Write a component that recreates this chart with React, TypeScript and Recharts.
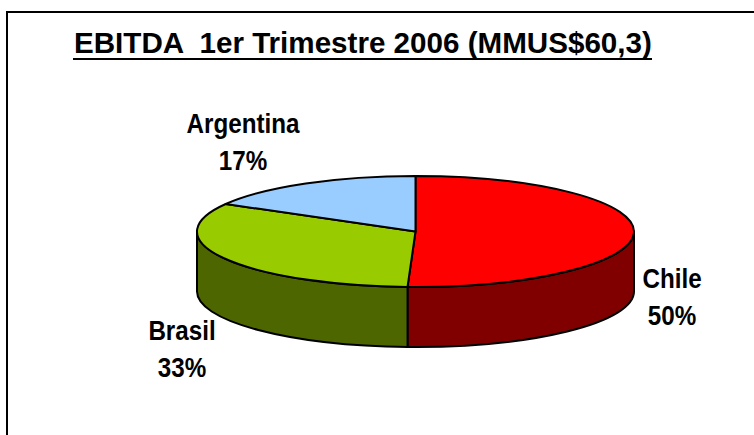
import { PieChart, Pie, Cell } from "recharts";

// values in MMUS$
const categories = ["Chile", "Brasil", "Argentina"];
const values = [30.5, 19.7, 10.1];
const percentLabels = ["50%", "33%", "17%"];

const TOP_COLORS = ["#ff0000", "#99cc00", "#99ccff"];
const WALL_COLORS = ["#800000", "#4d6600", "#4d6680"];

const data = categories.map((name, i) => ({ name, value: values[i] }));

const WIDTH = 754;
const HEIGHT = 435;
const CX = 415.5;
const CY = 231.5;
const RADIUS = 218.5;
const SQUASH = 55.5 / 218.5;
const DEPTH = 60;

const LABEL_POS = [
  { x: 672, y: 288 },
  { x: 182, y: 340 },
  { x: 243, y: 133 },
];
const LINE_GAP = 37;
// no narrow Arial here, so the labels are squeezed horizontally
const LABEL_SQUEEZE = 0.865;

const pt = (cx: number, cy: number, r: number, deg: number) => {
  const a = (deg * Math.PI) / 180;
  return [cx + r * Math.cos(a), cy - r * SQUASH * Math.sin(a)];
};

// Pie is a flat circle in Recharts, so each sector is redrawn as an ellipse with a wall under it
function Slice3D(props: any) {
  const { cx, cy, outerRadius: r, startAngle, endAngle, fill, index } = props;
  const ry = r * SQUASH;
  const [sx, sy] = pt(cx, cy, r, startAngle);
  const [ex, ey] = pt(cx, cy, r, endAngle);
  const large = Math.abs(startAngle - endAngle) > 180 ? 1 : 0;

  // only the front half of the rim has a visible wall
  const a0 = Math.min(startAngle, 0);
  const a1 = Math.max(endAngle, -180);
  let wall = null;
  if (a0 > a1) {
    const [x0, y0] = pt(cx, cy, r, a0);
    const [x1, y1] = pt(cx, cy, r, a1);
    wall = (
      <path
        d={`M${x0},${y0} A${r},${ry} 0 0 1 ${x1},${y1} L${x1},${y1 + DEPTH} A${r},${ry} 0 0 0 ${x0},${y0 + DEPTH} Z`}
        fill={WALL_COLORS[index]}
        stroke="#000"
        strokeWidth={2}
        strokeLinejoin="round"
      />
    );
  }

  return (
    <g>
      {wall}
      <path
        d={`M${cx},${cy} L${sx},${sy} A${r},${ry} 0 ${large} 1 ${ex},${ey} Z`}
        fill={fill}
        stroke="#000"
        strokeWidth={2}
        strokeLinejoin="round"
      />
    </g>
  );
}

function SliceLabel({ index }: any) {
  const pos = LABEL_POS[index];
  return (
    <text
      transform={`translate(${pos.x} ${pos.y}) scale(${LABEL_SQUEEZE} 1)`}
      x={0}
      y={0}
      textAnchor="middle"
      fill="#000"
      fontFamily="'Liberation Sans', Arial, sans-serif"
      fontWeight="bold"
      fontSize={28}
    >
      <tspan x={0}>{categories[index]}</tspan>
      <tspan x={0} dy={LINE_GAP}>
        {percentLabels[index]}
      </tspan>
    </text>
  );
}

export default function App() {
  return (
    <div style={{ position: "absolute", left: 0, top: 0, width: WIDTH, height: HEIGHT, background: "#fff" }}>
      <PieChart width={WIDTH} height={HEIGHT} margin={{ top: 0, right: 0, bottom: 0, left: 0 }}>
        <path d={`M7,${HEIGHT} V12 H${WIDTH}`} fill="none" stroke="#000" strokeWidth={2} />
        <text
          x={74}
          y={53}
          fontFamily="'Liberation Sans', Arial, sans-serif"
          fontWeight="bold"
          fontSize={29.6}
          fill="#000"
          style={{ whiteSpace: "pre" }}
        >
          EBITDA  1er Trimestre 2006 (MMUS$60,3)
        </text>
        <path d="M73,59 H652" stroke="#000" strokeWidth={2} fill="none" />
        <Pie
          data={data}
          dataKey="value"
          nameKey="name"
          cx={CX}
          cy={CY}
          innerRadius={0}
          outerRadius={RADIUS}
          startAngle={90}
          endAngle={-270}
          paddingAngle={0}
          stroke="none"
          shape={Slice3D}
          label={SliceLabel}
          labelLine={false}
          isAnimationActive={false}
        >
          {data.map((d, i) => (
            <Cell key={d.name} fill={TOP_COLORS[i]} />
          ))}
        </Pie>
      </PieChart>
    </div>
  );
}
